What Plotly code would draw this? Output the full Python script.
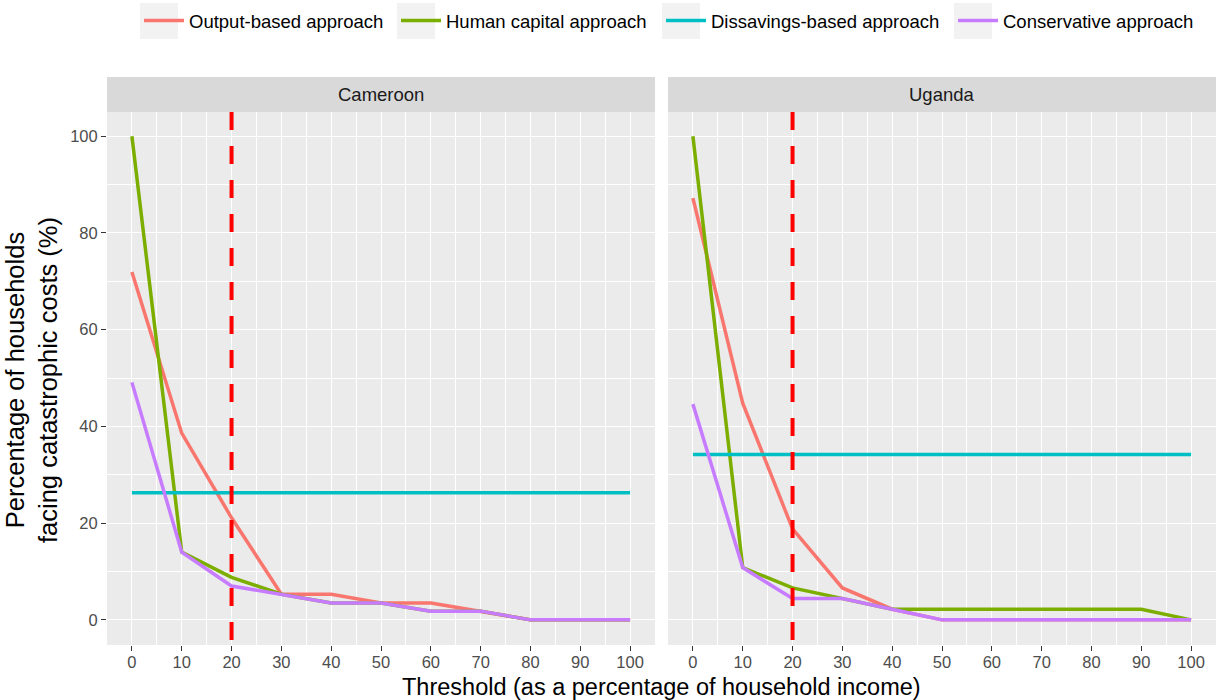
import plotly.graph_objects as go

thresholds = [0, 10, 20, 30, 40, 50, 60, 70, 80, 90, 100]
countries = ["Cameroon", "Uganda"]
series_names = ["Output-based approach", "Human capital approach",
                "Dissavings-based approach", "Conservative approach"]
series_colors = ["#F8766D", "#7CAE00", "#00BFC4", "#C77CFF"]

cameroon_output = [71.9, 38.6, 21.1, 5.3, 5.3, 3.5, 3.5, 1.8, 0, 0, 0]
cameroon_human = [100, 14.0, 8.8, 5.3, 3.5, 3.5, 1.8, 1.8, 0, 0, 0]
cameroon_dissav = [26.3] * 11
cameroon_conserv = [49.1, 14.0, 7.0, 5.3, 3.5, 3.5, 1.8, 1.8, 0, 0, 0]

uganda_output = [87.2, 44.8, 18.8, 6.6, 2.2, 0, 0, 0, 0, 0, 0]
uganda_human = [100, 10.8, 6.6, 4.4, 2.2, 2.2, 2.2, 2.2, 2.2, 2.2, 0]
uganda_dissav = [34.2] * 11
uganda_conserv = [44.6, 10.8, 4.4, 4.4, 2.2, 0, 0, 0, 0, 0, 0]

data = {
    "Cameroon": [cameroon_output, cameroon_human, cameroon_dissav, cameroon_conserv],
    "Uganda": [uganda_output, uganda_human, uganda_dissav, uganda_conserv],
}
ref_threshold = 20

W, H = 1216, 700
FONT = "Liberation Sans, Arial, sans-serif"

legend_box_x = [140, 397, 662, 954]
legend_ids = ["legend", "legend2", "legend3", "legend4"]

fig = go.Figure()
axes = [("x", "y"), ("x2", "y2")]
for ci, c in enumerate(countries):
    xa, ya = axes[ci]
    for si, name in enumerate(series_names):
        fig.add_trace(go.Scatter(
            x=thresholds, y=data[c][si], mode="lines", name=name,
            line=dict(color=series_colors[si], width=3.5),
            xaxis=xa, yaxis=ya, showlegend=(ci == 0),
            legendgroup=name, legend=legend_ids[si],
        ))

pl = [(107, 655), (668, 1216)]
ptop, pbot = 112, 645
ydom = [1 - pbot / H, 1 - ptop / H]

grid = "white"
tickfont = dict(family=FONT, size=16.5, color="#4d4d4d")
common_x = dict(range=[-5, 105], tickvals=thresholds, ticktext=[str(t) for t in thresholds],
                showgrid=True, gridcolor=grid, gridwidth=1.2,
                minor=dict(tickvals=[5, 15, 25, 35, 45, 55, 65, 75, 85, 95], showgrid=True,
                           gridcolor=grid, gridwidth=0.6, ticks=""),
                zeroline=False, ticks="outside", ticklen=5, tickcolor="#333333", tickwidth=1.3,
                tickfont=tickfont, showline=False, ticklabelstandoff=-3)
common_y = dict(range=[-5.2, 105], tickvals=[0, 20, 40, 60, 80, 100],
                showgrid=True, gridcolor=grid, gridwidth=1.2,
                minor=dict(tickvals=[10, 30, 50, 70, 90], showgrid=True,
                           gridcolor=grid, gridwidth=0.6, ticks=""),
                zeroline=False, tickcolor="#333333", tickwidth=1.3,
                tickfont=tickfont, showline=False)

fig.update_layout(
    xaxis=dict(domain=[pl[0][0] / W, pl[0][1] / W], anchor="y", **common_x),
    xaxis2=dict(domain=[pl[1][0] / W, pl[1][1] / W], anchor="y2", **common_x),
    yaxis=dict(domain=ydom, anchor="x", ticks="outside", ticklen=5, **common_y),
    yaxis2=dict(domain=ydom, anchor="x2", showticklabels=False, ticks="", **common_y),
)

shapes = []
annotations = []
for ci, c in enumerate(countries):
    xa, ya = axes[ci]
    shapes.append(dict(type="rect", xref=f"{xa} domain", yref=f"{ya} domain", x0=0, x1=1, y0=0, y1=1,
                       fillcolor="#EBEBEB", line=dict(width=0), layer="below"))
    shapes.append(dict(type="rect", xref="paper", yref="paper",
                       x0=pl[ci][0] / W, x1=pl[ci][1] / W, y0=1 - ptop / H, y1=1 - 77 / H,
                       fillcolor="#D9D9D9", line=dict(width=0), layer="below"))
    annotations.append(dict(text=c, xref="paper", yref="paper",
                            x=(pl[ci][0] + pl[ci][1]) / 2 / W, y=1 - 94.5 / H,
                            showarrow=False, xanchor="center", yanchor="middle",
                            font=dict(family=FONT, size=18.5, color="#1a1a1a")))
    shapes.append(dict(type="line", xref=xa, yref=f"{ya} domain", x0=ref_threshold, x1=ref_threshold,
                       y0=1, y1=0, line=dict(color="#FF0000", width=4, dash="18px,16px"), layer="above"))

for kx in legend_box_x:
    shapes.append(dict(type="rect", xref="paper", yref="paper",
                       x0=kx / W, x1=(kx + 38) / W, y0=1 - 39 / H, y1=1 - 3 / H,
                       fillcolor="#F2F2F2", line=dict(width=0), layer="below"))

annotations.append(dict(text="Threshold (as a percentage of household income)", xref="paper", yref="paper",
                        x=(pl[0][0] + pl[1][1]) / 2 / W, y=1 - 687 / H, showarrow=False,
                        xanchor="center", yanchor="middle",
                        font=dict(family=FONT, size=23.5, color="#000000")))
annotations.append(dict(text="Percentage of households<br>facing catastrophic costs (%)", xref="paper",
                        yref="paper", x=32 / W, y=1 - 380 / H, showarrow=False, textangle=-90,
                        xanchor="center", yanchor="middle",
                        font=dict(family=FONT, size=25.5, color="#000000")))

legend_layout = {}
for si, lid in enumerate(legend_ids):
    legend_layout[lid] = dict(orientation="h", x=(legend_box_x[si] - 1) / W, y=1 - 2 / H,
                              xanchor="left", yanchor="top",
                              font=dict(family=FONT, size=18.5, color="#000000"),
                              bgcolor="rgba(0,0,0,0)", itemwidth=40, tracegroupgap=0)

fig.update_layout(
    width=W, height=H,
    margin=dict(l=0, r=0, t=0, b=0),
    paper_bgcolor="white", plot_bgcolor="white",
    shapes=shapes, annotations=annotations,
    showlegend=True,
    **legend_layout,
)

fig.write_html("out.html")
